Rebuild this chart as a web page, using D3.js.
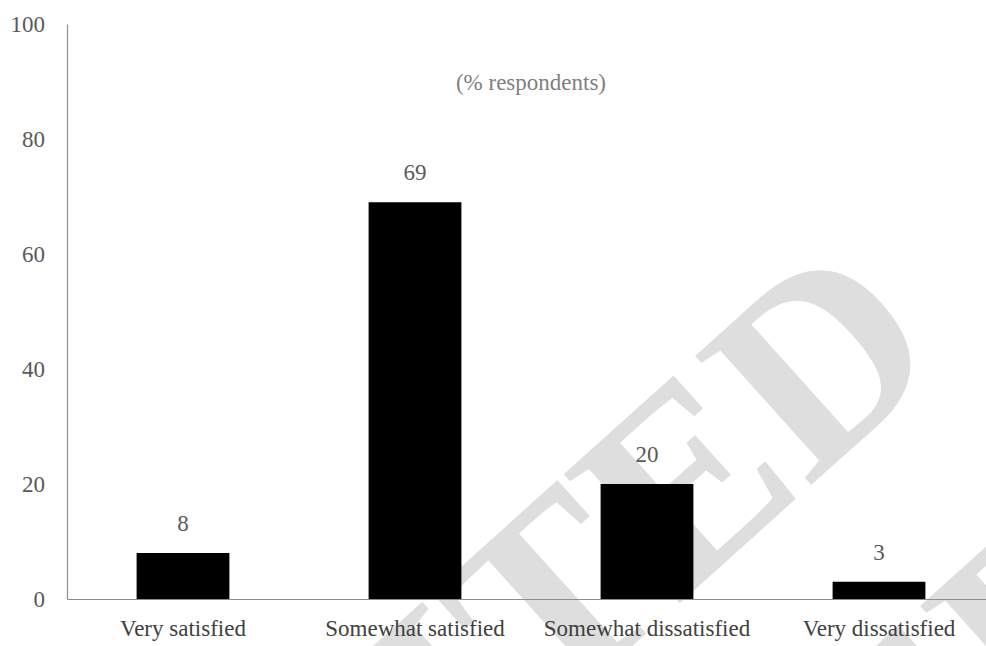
<!DOCTYPE html>
<html>
<head>
<meta charset="utf-8">
<script src="https://cdn.jsdelivr.net/npm/d3@7"></script>
<style>
  body { margin: 0; background: #fff; }
  #chart { width: 986px; height: 646px; }
</style>
</head>
<body>
<div id="chart"></div>
<script>
const categories = ["Very satisfied", "Somewhat satisfied", "Somewhat dissatisfied", "Very dissatisfied"];
const values = [8, 69, 20, 3];
const yTicks = [0, 20, 40, 60, 80, 100];
const unitNote = "(% respondents)";
const watermark = "UNEDITED";

const width = 986, height = 646;
const margin = { top: 24, right: -9, bottom: 47, left: 67 };
const chartWidth = width - margin.left - margin.right;
const chartHeight = height - margin.top - margin.bottom;
const font = "Liberation Serif";
const fontSize = 23;

const svg = d3.select("#chart")
    .append("svg")
    .attr("width", width)
    .attr("height", height)
    .style("display", "block");

// Watermark behind everything, light grey
const wm = svg.append("g").attr("class", "watermark");
[[950, 360], [1175, 610]].forEach(p => {
    wm.append("text")
        .attr("transform", `translate(${p[0]},${p[1]}) rotate(-42)`)
        .attr("text-anchor", "end")
        .attr("fill", "#dedede")
        .attr("font-family", font)
        .attr("font-weight", "bold")
        .attr("font-size", 265)
        .text(watermark);
});

const g = svg.append("g")
    .attr("transform", `translate(${margin.left},${margin.top})`);

const xScale = d3.scaleBand()
    .domain(categories)
    .range([0, chartWidth])
    .paddingInner(0.6)
    .paddingOuter(0.3);

const yScale = d3.scaleLinear()
    .domain([0, 100])
    .range([chartHeight, 0]);

// Bars
g.selectAll(".bar")
    .data(values)
    .enter()
    .append("rect")
    .attr("class", "bar")
    .attr("x", (d, i) => xScale(categories[i]))
    .attr("y", d => yScale(d))
    .attr("width", xScale.bandwidth())
    .attr("height", d => chartHeight - yScale(d))
    .attr("fill", "#000");

// Y axis
const yAxis = g.append("g")
    .call(d3.axisLeft(yScale).tickValues(yTicks).tickSize(0).tickPadding(22))
    .attr("font-family", font)
    .attr("font-size", fontSize);
yAxis.select(".domain").attr("stroke", "#8c8c8c").attr("stroke-width", 1.2);
yAxis.selectAll("text").attr("fill", "#595959");

// X axis
const xAxis = g.append("g")
    .attr("transform", `translate(0,${chartHeight})`)
    .call(d3.axisBottom(xScale).tickSize(0).tickPadding(21))
    .attr("font-family", font)
    .attr("font-size", fontSize);
xAxis.select(".domain").attr("stroke", "#8c8c8c").attr("stroke-width", 1.2);
xAxis.selectAll("text").attr("fill", "#404040");

// Value labels
g.selectAll(".value-label")
    .data(values)
    .enter()
    .append("text")
    .attr("class", "value-label")
    .attr("x", (d, i) => xScale(categories[i]) + xScale.bandwidth() / 2)
    .attr("y", d => yScale(d) - 22)
    .attr("text-anchor", "middle")
    .attr("fill", "#595959")
    .attr("font-family", font)
    .attr("font-size", fontSize)
    .text(d => d);

// Unit note
g.append("text")
    .attr("x", chartWidth / 2)
    .attr("y", 66)
    .attr("text-anchor", "middle")
    .attr("fill", "#7f7f7f")
    .attr("font-family", font)
    .attr("font-size", fontSize)
    .text(unitNote);
</script>
</body>
</html>
